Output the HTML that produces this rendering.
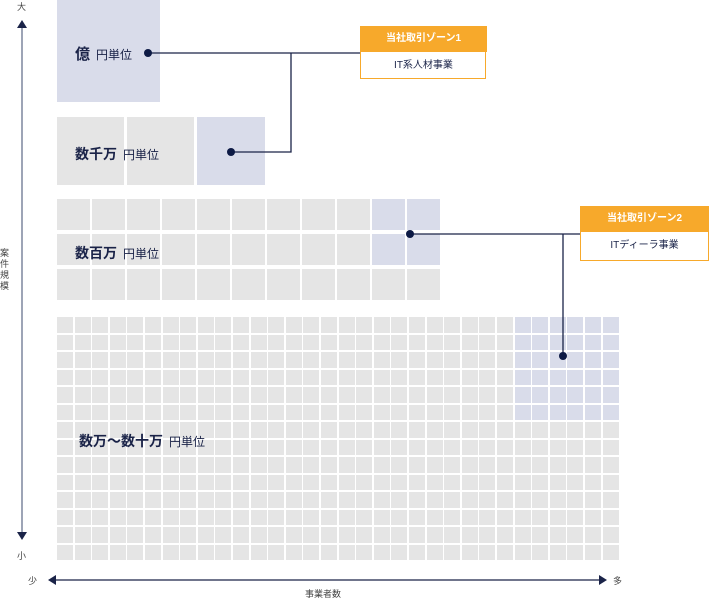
<!DOCTYPE html>
<html><head><meta charset="utf-8"><style>
body{margin:0;width:709px;height:600px;background:#fff;position:relative;overflow:hidden;font-family:"Liberation Sans","Noto Sans CJK JP",sans-serif;color:#1a2348}
.b{position:absolute}
.g{background:#e5e5e5}.bl{background:#d9dcea}
.t{position:absolute;white-space:nowrap}
.big{font-weight:bold;font-size:14px}
.sm{font-size:12px;margin-left:6px;font-weight:normal}
</style></head><body>
<div id="grid"></div>
<div class="b bl" style="left:57px;top:0;width:103px;height:102px"></div>
<div class="b g" style="left:57px;top:117px;width:67px;height:68px"></div>
<div class="b g" style="left:127px;top:117px;width:67px;height:68px"></div>
<div class="b bl" style="left:197px;top:117px;width:68px;height:68px"></div>
<script>
var h='';
for(var r=0;r<3;r++)for(var c=0;c<11;c++){var x=57+c*35;if(x>430)continue;var blue=(c>=9&&r<2);h+='<div class="b '+(blue?'bl':'g')+'" style="left:'+x+'px;top:'+(199+r*35)+'px;width:33px;height:31px"></div>';}
for(var r=0;r<14;r++)for(var c=0;c<32;c++){var blue=(c>=26&&r<6);h+='<div class="b '+(blue?'bl':'g')+'" style="left:'+(57+c*17.6)+'px;top:'+(317+r*17.5)+'px;width:16px;height:15.5px"></div>';}
document.getElementById('grid').innerHTML=h;
</script>
<div class="t big" style="left:75px;top:43px;font-size:15px">億<span class="sm">円単位</span></div>
<div class="t big" style="left:75px;top:144px">数千万<span class="sm">円単位</span></div>
<div class="t big" style="left:75px;top:243px">数百万<span class="sm">円単位</span></div>
<div class="t big" style="left:79px;top:431px">数万～数十万<span class="sm">円単位</span></div>
<svg class="b" style="left:0;top:0" width="709" height="600">
<g stroke="#1a2348" stroke-width="1.3" fill="none">
<path d="M148 53H360M291 53V152H231"/>
<path d="M410 234H580M563 234V356"/>
</g>
<g fill="#0d1a45"><circle cx="148" cy="53" r="4"/><circle cx="231" cy="152" r="4"/><circle cx="410" cy="234" r="4"/><circle cx="563" cy="356" r="4"/></g>
<path d="M22 28V532" stroke="#7d859e" stroke-width="1.5"/>
<path d="M17 28L22 20L27 28Z M17 532L22 540L27 532Z" fill="#1a2348"/>
<path d="M55 580H600" stroke="#1a2348" stroke-width="1.3"/>
<path d="M56 575L48 580L56 585Z M599 575L607 580L599 585Z" fill="#1a2348"/>
</svg>
<div class="b" style="left:360px;top:26px;width:126px;height:53px;border:1px solid #f7a92b;box-sizing:border-box"></div>
<div class="b" style="left:360px;top:26px;width:127px;height:26px;background:#f7a92b;color:#fff;font-size:10px;font-weight:bold;text-align:center;line-height:26px">当社取引ゾーン1</div>
<div class="t" style="left:360px;top:53px;width:127px;text-align:center;font-size:10px;line-height:26px">IT系人材事業</div>
<div class="b" style="left:580px;top:206px;width:129px;height:55px;border:1px solid #f7a92b;box-sizing:border-box"></div>
<div class="b" style="left:580px;top:206px;width:129px;height:26px;background:#f7a92b;color:#fff;font-size:10px;font-weight:bold;text-align:center;line-height:26px">当社取引ゾーン2</div>
<div class="t" style="left:580px;top:233px;width:129px;text-align:center;font-size:10px;line-height:26px">ITディーラ事業</div>
<div class="t" style="left:17px;top:0;font-size:9px;color:#444">大</div>
<div class="t" style="left:17px;top:549px;font-size:9px;color:#444">小</div>
<div class="t" style="left:0;top:248px;width:10px;font-size:9px;line-height:11px;color:#444;white-space:normal">案件規模</div>
<div class="t" style="left:28px;top:574px;font-size:9px;color:#444">少</div>
<div class="t" style="left:613px;top:574px;font-size:9px;color:#444">多</div>
<div class="t" style="left:305px;top:587px;font-size:9px;color:#444">事業者数</div>
</body></html>
